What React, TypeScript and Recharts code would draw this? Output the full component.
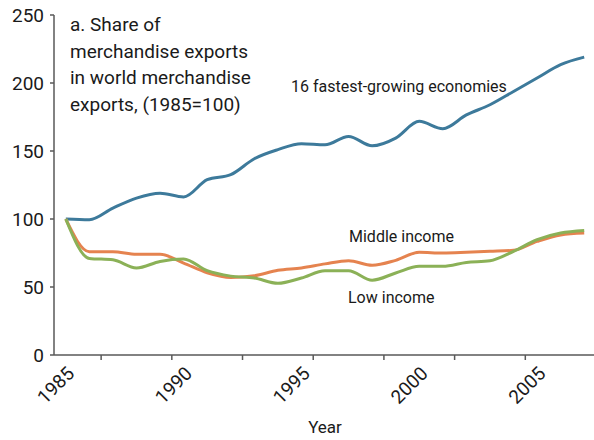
import { Label, Line, LineChart, XAxis, YAxis } from 'recharts';

const years = [
  1985, 1986, 1987, 1988, 1989, 1990, 1991, 1992, 1993, 1994, 1995, 1996,
  1997, 1998, 1999, 2000, 2001, 2002, 2003, 2004, 2005, 2006, 2007,
];

const fastestGrowing = [
  100, 99.5, 108, 115.4, 119, 116.2, 128.9, 132.6, 144.3, 151, 155.4, 154.6,
  160.7, 153.8, 159.5, 171.8, 166.4, 176.5, 184, 193.8, 203.7, 213.5, 219,
];

const middleIncome = [
  100, 76, 76, 74, 74, 67.6, 60.5, 57, 58.3, 62.3, 64, 67,
  69.3, 66, 69.6, 75.5, 75, 75.5, 76.2, 77, 83.5, 88.3, 89.7,
];

const lowIncome = [
  100, 71, 70, 64, 68.8, 70.6, 62, 58, 56.6, 52.7, 56.6, 62,
  62, 55, 60.3, 65.2, 65.2, 68, 69.3, 76.2, 84.8, 89.7, 91.6,
];

const yTicks = [0, 50, 100, 150, 200, 250];
const labelYears = [1985, 1990, 1995, 2000, 2005];
const titleLines = [
  'a. Share of',
  'merchandise exports',
  'in world merchandise',
  'exports, (1985=100)',
];

const data = years.map((year, i) => ({
  year,
  fastest: fastestGrowing[i],
  middle: middleIncome[i],
  low: lowIncome[i],
}));

// category boundaries, where the tick marks sit
const boundaryTicks = [...years.map((y) => y - 0.5), years[years.length - 1] + 0.5];
const xDomain = [boundaryTicks[0], boundaryTicks[boundaryTicks.length - 1]];

const AXIS = '#595959';
const TEXT = '#1a1a1a';

function YearTick({ x, y, payload }: any) {
  const ax = x + 5;
  const ay = y + 14;
  return (
    <text
      x={ax}
      y={ay}
      dy="0.35em"
      textAnchor="end"
      fontSize={19}
      fill={TEXT}
      transform={`rotate(-45, ${ax}, ${ay})`}
    >
      {payload.value}
    </text>
  );
}

export default function App() {
  return (
    <div
      style={{
        position: 'absolute',
        left: 0,
        top: 0,
        width: 594,
        height: 440,
        overflow: 'hidden',
        background: '#fff',
        fontFamily: 'Roboto, sans-serif',
      }}
    >
      <LineChart
        width={598}
        height={440}
        data={data}
        margin={{ top: 15, right: 2, left: 0, bottom: 83 }}
      >
        <XAxis
          xAxisId={0}
          dataKey="year"
          type="number"
          domain={xDomain}
          ticks={boundaryTicks}
          tick={() => null}
          tickSize={5}
          height={1}
          axisLine={{ stroke: AXIS, strokeWidth: 1.5 }}
          tickLine={{ stroke: AXIS, strokeWidth: 1.5 }}
        />
        <XAxis
          xAxisId="labels"
          dataKey="year"
          type="number"
          domain={xDomain}
          ticks={labelYears}
          tick={<YearTick />}
          tickSize={0}
          tickMargin={0}
          height={1}
          axisLine={false}
          tickLine={false}
        >
          <Label value="Year" position="bottom" offset={64} fontSize={17} fill={TEXT} />
        </XAxis>
        <YAxis
          width={54}
          domain={[0, 250]}
          ticks={yTicks}
          tickSize={4}
          tickMargin={6}
          tick={{ fontSize: 19, fill: TEXT }}
          axisLine={{ stroke: AXIS, strokeWidth: 1.5 }}
          tickLine={{ stroke: AXIS, strokeWidth: 1.5 }}
        />
        <Line
          type="monotone"
          dataKey="fastest"
          stroke="#3d7a9b"
          strokeWidth={3}
          dot={false}
          isAnimationActive={false}
        />
        <Line
          type="monotone"
          dataKey="middle"
          stroke="#e5834f"
          strokeWidth={3}
          dot={false}
          isAnimationActive={false}
        />
        <Line
          type="monotone"
          dataKey="low"
          stroke="#8bb157"
          strokeWidth={3}
          dot={false}
          isAnimationActive={false}
        />
        <text x={70} y={31} fontSize={19} fill={TEXT}>
          {titleLines.map((line, i) => (
            <tspan key={line} x={70} dy={i === 0 ? 0 : 26.5}>
              {line}
            </tspan>
          ))}
        </text>
        <text x={291} y={92} fontSize={16} fill={TEXT}>
          16 fastest-growing economies
        </text>
        <text x={349} y={242} fontSize={16} fill={TEXT}>
          Middle income
        </text>
        <text x={348} y={303} fontSize={16} fill={TEXT}>
          Low income
        </text>
      </LineChart>
    </div>
  );
}
